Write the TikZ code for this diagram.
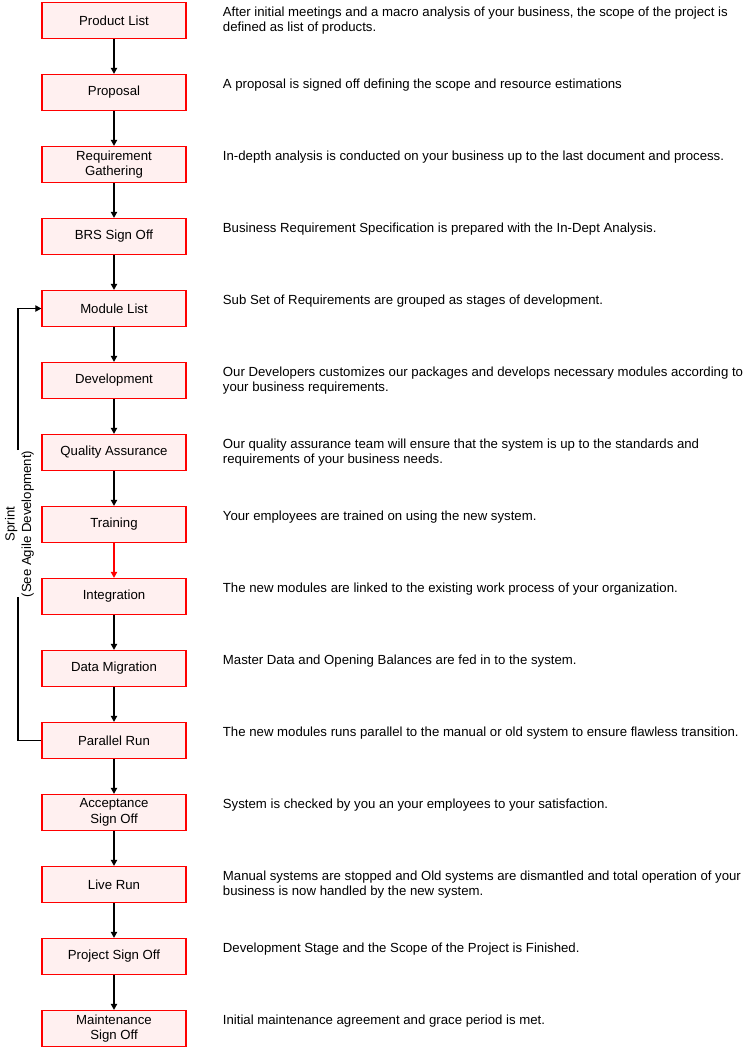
\documentclass[tikz,border=0pt]{standalone}
\usepackage{fontspec}
\setmainfont{Liberation Sans}
\usetikzlibrary{arrows.meta}
\definecolor{boxfill}{HTML}{FFF0F0}
\definecolor{boxline}{HTML}{FF0000}
\tikzset{
  stepbox/.style={draw=boxline, fill=boxfill, line width=1pt, minimum width=108pt, minimum height=27pt, inner sep=0pt, align=center, font=\fontsize{9.9}{11.6}\selectfont},
  desc/.style={anchor=north west, inner sep=0pt, align=left, font=\fontsize{9.9}{11.6}\selectfont},
  arr/.style={draw=black, line width=0.8pt, -{Triangle[length=4.5pt,width=4.8pt]}},
  redarr/.style={draw=red, line width=0.8pt, -{Triangle[length=4.5pt,width=4.8pt]}},
  plain/.style={draw=black, line width=0.8pt},
}
\begin{document}
\begin{tikzpicture}[x=0.75pt,y=-0.75pt]
\useasboundingbox (0,0) rectangle (752,1047);
\node[stepbox] (b1) at (114,20.5) {Product List};
\node[stepbox] (b2) at (114,92.5) {Proposal};
\node[stepbox] (b3) at (114,164.5) {Requirement\\Gathering};
\node[stepbox] (b4) at (114,236.5) {BRS Sign Off};
\node[stepbox] (b5) at (114,308.5) {Module List};
\node[stepbox] (b6) at (114,380.5) {Development};
\node[stepbox] (b7) at (114,452.5) {Quality Assurance};
\node[stepbox] (b8) at (114,524.5) {Training};
\node[stepbox] (b9) at (114,596.5) {Integration};
\node[stepbox] (b10) at (114,668.5) {Data Migration};
\node[stepbox] (b11) at (114,740.5) {Parallel Run};
\node[stepbox] (b12) at (114,812.5) {Acceptance\\Sign Off};
\node[stepbox] (b13) at (114,884.5) {Live Run};
\node[stepbox] (b14) at (114,956.5) {Project Sign Off};
\node[stepbox] (b15) at (114,1028.5) {Maintenance\\Sign Off};

\node[desc] (d1) at ([xshift=27pt,yshift=-3.5pt]b1.north east) {After initial meetings and a macro analysis of your business, the scope of the project is\\defined as list of products.};
\node[desc] (d2) at ([xshift=27pt,yshift=-3.5pt]b2.north east) {A proposal is signed off defining the scope and resource estimations};
\node[desc] (d3) at ([xshift=27pt,yshift=-3.5pt]b3.north east) {In-depth analysis is conducted on your business up to the last document and process.};
\node[desc] (d4) at ([xshift=27pt,yshift=-3.5pt]b4.north east) {Business Requirement Specification is prepared with the In-Dept Analysis.};
\node[desc] (d5) at ([xshift=27pt,yshift=-3.5pt]b5.north east) {Sub Set of Requirements are grouped as stages of development.};
\node[desc] (d6) at ([xshift=27pt,yshift=-3.5pt]b6.north east) {Our Developers customizes our packages and develops necessary modules according to\\your business requirements.};
\node[desc] (d7) at ([xshift=27pt,yshift=-3.5pt]b7.north east) {Our quality assurance team will ensure that the system is up to the standards and\\requirements of your business needs.};
\node[desc] (d8) at ([xshift=27pt,yshift=-3.5pt]b8.north east) {Your employees are trained on using the new system.};
\node[desc] (d9) at ([xshift=27pt,yshift=-3.5pt]b9.north east) {The new modules are linked to the existing work process of your organization.};
\node[desc] (d10) at ([xshift=27pt,yshift=-3.5pt]b10.north east) {Master Data and Opening Balances are fed in to the system.};
\node[desc] (d11) at ([xshift=27pt,yshift=-3.5pt]b11.north east) {The new modules runs parallel to the manual or old system to ensure flawless transition.};
\node[desc] (d12) at ([xshift=27pt,yshift=-3.5pt]b12.north east) {System is checked by you an your employees to your satisfaction.};
\node[desc] (d13) at ([xshift=27pt,yshift=-3.5pt]b13.north east) {Manual systems are stopped and Old systems are dismantled and total operation of your\\business is now handled by the new system.};
\node[desc] (d14) at ([xshift=27pt,yshift=-3.5pt]b14.north east) {Development Stage and the Scope of the Project is Finished.};
\node[desc] (d15) at ([xshift=27pt,yshift=-3.5pt]b15.north east) {Initial maintenance agreement and grace period is met.};

\foreach \a/\b in {b1/b2,b2/b3,b3/b4,b4/b5,b5/b6,b6/b7,b7/b8,b9/b10,b10/b11,b11/b12,b12/b13,b13/b14,b14/b15}
  \draw[arr] (\a) -- (\b);
\draw[redarr] (b8) -- (b9);

\node[rotate=90, align=center, inner sep=0pt, font=\fontsize{9.9}{12.5}\selectfont] (sprint) at (19.5,524) {Sprint\\(See Agile Development)};
\coordinate (lb) at (18,597);
\coordinate (lt) at (18,450);
\draw[plain] (b11.west) -| (lb);
\draw[arr] (lt) |- (b5.west);
\end{tikzpicture}
\end{document}
